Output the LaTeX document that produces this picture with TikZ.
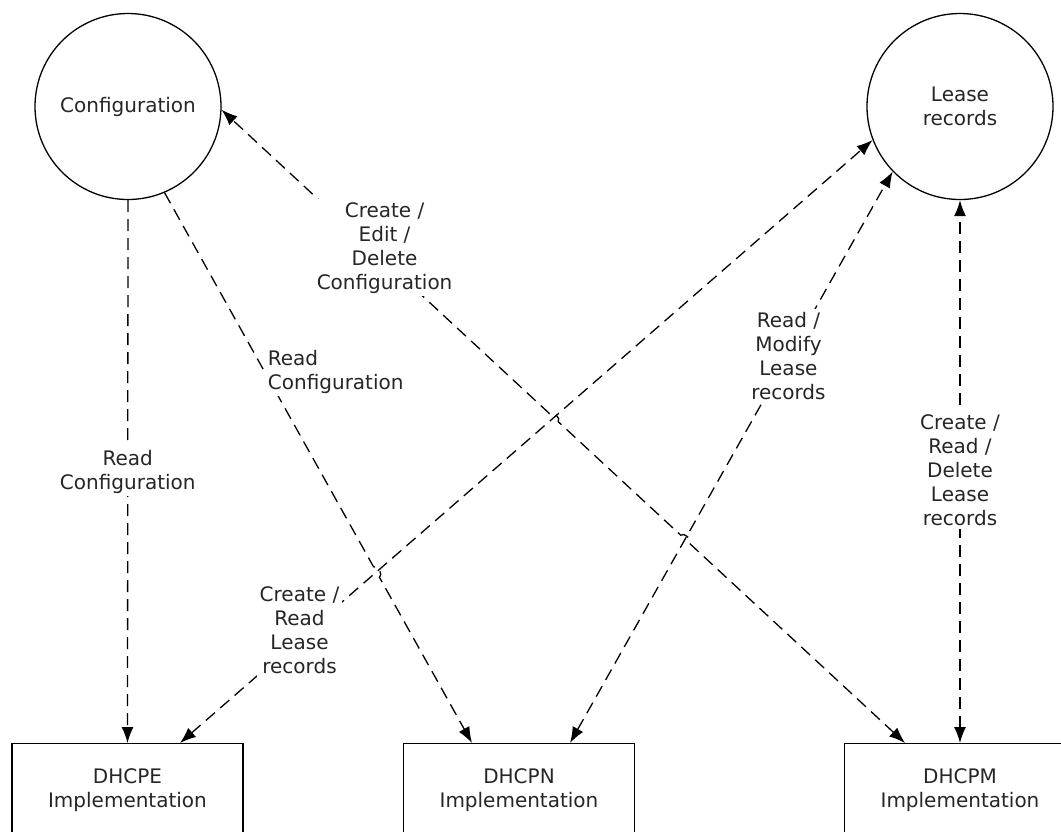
\documentclass[tikz,border=0pt]{standalone}
\usepackage{fontspec}
\setmainfont{DejaVu Sans}
\usetikzlibrary{arrows.meta,calc}

\tikzset{
  store/.style={circle, draw, line width=.65pt, minimum size=93pt,
    inner sep=0pt, align=center},
  impl/.style={rectangle, draw, line width=.65pt, minimum width=115.5pt,
    minimum height=46pt, align=center, anchor=north},
  flow/.style={line width=.65pt, dash pattern=on 6pt off 3.5pt,
    -{Latex[length=8pt,width=6pt]}},
  flowboth/.style={flow, {Latex[length=8pt,width=6pt]}-{Latex[length=8pt,width=6pt]}},
  flowlabel/.style={fill=white, align=center, inner sep=1.5pt}
}

\begin{document}
\begin{tikzpicture}[x=.5pt, y=-.5pt, font=\fontsize{10}{12}\selectfont,
    text=black!85]
  \def\boxtop{743}
  \def\hop{3pt}
  \useasboundingbox (0,0) rectangle (1061,831);

  % data stores
  \node[store] (config) at (128,106.5) {Configuration};
  \node[store] (lease) at (960,106.5) {Lease\\records};

  % implementations
  \node[impl] (dhcpe) at (127.5,\boxtop) {DHCPE\\Implementation};
  \node[impl] (dhcpn) at (519,\boxtop) {DHCPN\\Implementation};
  \node[impl] (dhcpm) at (960,\boxtop) {DHCPM\\Implementation};

  \coordinate (dhcpeL) at ([xshift=26.25pt]dhcpe.north);
  \coordinate (dhcpnC) at ([xshift=-23.5pt]dhcpn.north);
  \coordinate (dhcpnL) at ([xshift=25.5pt]dhcpn.north);
  \coordinate (dhcpmC) at ([xshift=-27.5pt]dhcpm.north);
  \coordinate (configN) at (config.-67);
  \coordinate (configM) at (config.-2);
  \coordinate (leaseE) at (lease.201);
  \coordinate (leaseN) at (lease.224);

  % line crossings
  \coordinate (xNE) at (intersection of configN--dhcpnC and dhcpeL--leaseE);
  \coordinate (xME) at (intersection of dhcpmC--configM and dhcpeL--leaseE);
  \coordinate (xMN) at (intersection of dhcpmC--configM and dhcpnL--leaseN);

  % flows
  \draw[flow] (config.south) -- (dhcpe.north);
  \draw[flow] (configN) -- ($(xNE)!\hop!(configN)$)
      to[bend left=90] ($(xNE)!\hop!(dhcpnC)$) -- (dhcpnC);
  \draw[flowboth] (dhcpmC) -- ($(xMN)!\hop!(dhcpmC)$)
      to[bend right=90] ($(xMN)!\hop!(configM)$)
      -- ($(xME)!\hop!(dhcpmC)$)
      to[bend right=90] ($(xME)!\hop!(configM)$) -- (configM);
  \draw[flowboth] (dhcpeL) -- (leaseE);
  \draw[flowboth] (dhcpnL) -- (leaseN);
  \draw[flowboth] (dhcpm.north) -- (lease.south);

  % labels
  \path (config.south) -- node[flowlabel] {Read\\Configuration}
      (dhcpe.north);
  \path (configN) -- node[flowlabel, pos=.325, anchor=west,
      align=left] {Read\\Configuration} (dhcpnC);
  \path (dhcpmC) -- node[flowlabel, pos=.782, xshift=7pt]
      {Create /\\Edit /\\Delete\\Configuration} (configM);
  \path (dhcpeL) -- node[flowlabel, pos=.187, xshift=-5pt]
      {Create /\\Read\\Lease\\records} (leaseE);
  \path (dhcpnL) -- node[flowlabel, pos=.677]
      {Read /\\Modify\\Lease\\records} (leaseN);
  \path (dhcpm.north) -- node[flowlabel, pos=.503]
      {Create /\\Read /\\Delete\\Lease\\records} (lease.south);
\end{tikzpicture}
\end{document}
